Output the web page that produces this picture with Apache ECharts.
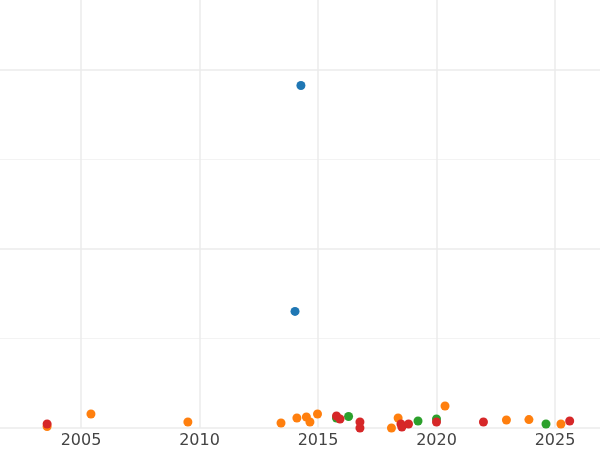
<!DOCTYPE html>
<html>
<head>
<meta charset="utf-8">
<script src="https://cdn.jsdelivr.net/npm/echarts@6/dist/echarts.min.js"></script>
<style>html,body{margin:0;padding:0;background:#fff}#chart{width:600px;height:450px}</style>
</head>
<body>
<div id="chart"></div>
<script>
// [year, value]
var blue = [[2014.28, 3.82], [2014.03, 1.30]];
var orange = [[2003.57, 0.017], [2005.42, 0.156], [2009.51, 0.067], [2013.44, 0.056], [2014.11, 0.111],
  [2014.51, 0.123], [2014.66, 0.067], [2014.98, 0.156], [2018.10, 0.0], [2018.38, 0.111],
  [2020.36, 0.245], [2022.95, 0.089], [2023.90, 0.094], [2025.25, 0.045]];
var green = [[2015.78, 0.111], [2016.29, 0.128], [2019.22, 0.078], [2020.0, 0.100], [2024.62, 0.045]];
var red = [[2003.57, 0.045], [2015.78, 0.134], [2015.93, 0.100], [2016.77, 0.067], [2016.77, 0.0],
  [2018.50, 0.045], [2018.54, 0.011], [2018.82, 0.045], [2020.0, 0.067], [2021.98, 0.067], [2025.62, 0.078]];

var chart = echarts.init(document.getElementById('chart'));
function s(data, color) {
  return { type: 'scatter', data: data, symbolSize: 9, itemStyle: { color: color, opacity: 1 } };
}
chart.setOption({
  animation: false,
  grid: { left: -37.5, width: 711, top: -110, bottom: 22, containLabel: false, outerBoundsMode: 'none' },
  xAxis: {
    type: 'value', min: 2000, max: 2030, interval: 5,
    axisLine: { show: false }, axisTick: { show: false },
    axisLabel: { color: '#444', fontSize: 16, margin: 5, fontFamily: 'DejaVu Sans',
      formatter: function (v) { return String(v); } },
    splitLine: { lineStyle: { color: '#ebebeb', width: 1.5 } }
  },
  yAxis: {
    type: 'value', min: 0, max: 6, interval: 2,
    axisLine: { show: false }, axisTick: { show: false }, axisLabel: { show: false },
    splitLine: { lineStyle: { color: '#ebebeb', width: 1.5 } },
    minorTick: { show: false, splitNumber: 2 },
    minorSplitLine: { show: true, lineStyle: { color: '#f3f3f3', width: 1 } }
  },
  series: [s(blue, '#1f77b4'), s(orange, '#ff7f0e'), s(green, '#2ca02c'), s(red, '#d62728')]
});
</script>
</body>
</html>
